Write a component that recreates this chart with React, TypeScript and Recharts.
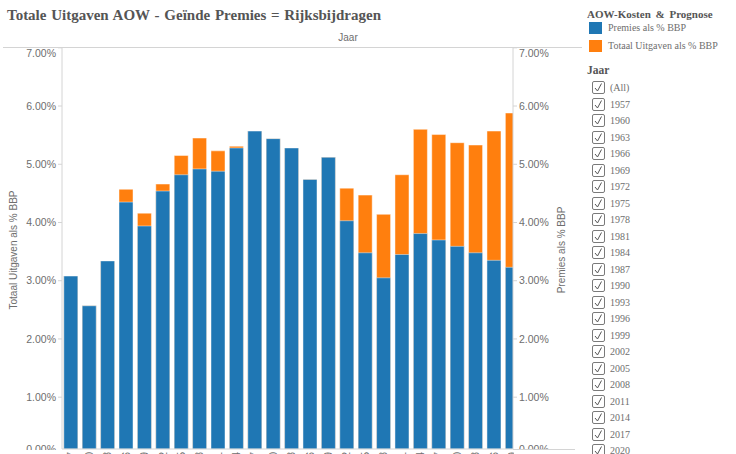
import React from "react"
import { BarChart, Bar, XAxis, YAxis } from "recharts"

const YEARS = [
  1957, 1960, 1963, 1966, 1969, 1972, 1975, 1978, 1981, 1984, 1987, 1990, 1993,
  1996, 1999, 2002, 2005, 2008, 2011, 2014, 2017, 2020, 2023, 2026, 2029,
]

// Premies als % BBP
const PREMIES = [
  3.08, 2.57, 3.34, 4.35, 3.94, 4.54, 4.82, 4.92, 4.88, 5.28, 5.57, 5.44, 5.28,
  4.74, 5.12, 4.03, 3.48, 3.05, 3.45, 3.81, 3.7, 3.59, 3.48, 3.35, 3.23,
]

// Totaal Uitgaven als % BBP
const TOTAAL = [
  3.08, 2.57, 3.34, 4.57, 4.16, 4.66, 5.15, 5.45, 5.23, 5.31, 5.57, 5.44, 5.28,
  4.74, 5.12, 4.59, 4.47, 4.14, 4.82, 5.6, 5.51, 5.37, 5.33, 5.57, 5.88,
]

const Y_TICKS = [0, 1, 2, 3, 4, 5, 6, 7]

// the pane is scrolled: only this window of the axes is in view
const X_VIEW: [number, number] = [1955.53, 2029.07]
const Y_VIEW: [number, number] = [0.11, 7]

const BLUE = "#1f77b4"
const ORANGE = "#ff7f0e"
const AXIS = "#d4d4d4"
const LABEL = "#6e6e6e"
const SANS = "'Liberation Sans', Arial, sans-serif"
const SERIF = "'Liberation Serif', 'Times New Roman', serif"

const data = YEARS.map((jaar, i) => ({ jaar, premies: PREMIES[i], totaal: TOTAAL[i] }))
const slotEdges = YEARS.map((j) => j - 1.5)

function PctTick(props: any) {
  const { x, y, payload, textAnchor } = props
  const v = payload.value as number
  // end labels are pulled inwards so they stay inside the pane
  const shift = v === 7 ? 5 : v === 0 ? -6 : 0
  return (
    <text
      x={x}
      y={y + shift}
      dy="0.355em"
      textAnchor={textAnchor}
      fontSize={10.5}
      fontFamily={SANS}
      fill={LABEL}
    >
      {v.toFixed(2)}%
    </text>
  )
}

function YearTick(props: any) {
  const { x, y, payload } = props
  return (
    <text
      x={x}
      y={y}
      dy="0.35em"
      transform={`rotate(-90 ${x} ${y})`}
      textAnchor="end"
      fontSize={10}
      fontFamily={SANS}
      fill={LABEL}
    >
      {payload.value}
    </text>
  )
}

function CheckBox() {
  return (
    <svg width={13} height={13} style={{ position: "absolute", left: 0, top: 0 }}>
      <rect x={0.5} y={0.5} width={12} height={12} rx={1.5} fill="#fff" stroke="#7a7a7a" />
      <polyline points="3,7 5.5,10 9.5,2.5" fill="none" stroke="#555" strokeWidth={1} />
    </svg>
  )
}

const abs = (left: number, top: number, extra: React.CSSProperties = {}): React.CSSProperties => ({
  position: "absolute",
  left,
  top,
  whiteSpace: "nowrap",
  ...extra,
})

export default function App() {
  const filterRows = ["(All)", ...YEARS.map(String)]
  return (
    <div
      style={{
        position: "absolute",
        left: 0,
        top: 0,
        width: 736,
        height: 454,
        overflow: "hidden",
        background: "#fff",
      }}
    >
      <div
        style={abs(7, 6, {
          fontFamily: SERIF,
          fontWeight: 700,
          fontSize: 15,
          lineHeight: "18px",
          color: "#555",
          wordSpacing: 1,
        })}
      >
        Totale Uitgaven AOW - Geïnde Premies = Rijksbijdragen
      </div>

      <div
        style={abs(348, 32, {
          transform: "translateX(-50%)",
          fontFamily: SANS,
          fontSize: 10,
          lineHeight: "12px",
          color: LABEL,
        })}
      >
        Jaar
      </div>

      <div style={{ position: "absolute", left: 0, top: 0 }}>
        <BarChart
          width={583}
          height={489}
          data={data}
          margin={{ top: 47.8, right: 0, bottom: 0, left: 0 }}
          barGap={-14}
        >
          <XAxis
            xAxisId="slots"
            type="number"
            dataKey="jaar"
            domain={X_VIEW}
            allowDataOverflow
            ticks={slotEdges}
            interval={0}
            tick={false}
            tickLine={{ stroke: AXIS }}
            tickSize={12}
            axisLine={false}
            height={0}
          />
          <XAxis
            type="number"
            dataKey="jaar"
            domain={X_VIEW}
            allowDataOverflow
            ticks={YEARS}
            interval={0}
            tick={(p: any) => <YearTick {...p} />}
            tickLine={false}
            tickSize={0}
            tickMargin={3}
            axisLine={{ stroke: AXIS }}
            height={40}
          />
          <YAxis
            yAxisId="left"
            orientation="left"
            width={62}
            domain={Y_VIEW}
            allowDataOverflow
            ticks={Y_TICKS}
            interval={0}
            tick={(p: any) => <PctTick {...p} />}
            tickLine={{ stroke: AXIS }}
            tickSize={4}
            axisLine={{ stroke: AXIS }}
          />
          <YAxis
            yAxisId="right"
            orientation="right"
            width={70}
            domain={Y_VIEW}
            allowDataOverflow
            ticks={Y_TICKS}
            interval={0}
            tick={(p: any) => <PctTick {...p} />}
            tickLine={{ stroke: AXIS }}
            tickSize={4}
            axisLine={{ stroke: AXIS }}
          />
          <Bar
            yAxisId="left"
            dataKey="totaal"
            name="Totaal Uitgaven als % BBP"
            fill={ORANGE}
            stroke="rgba(255,255,255,0.45)"
            strokeWidth={1}
            barSize={14}
            isAnimationActive={false}
          />
          <Bar
            yAxisId="left"
            dataKey="premies"
            name="Premies als % BBP"
            fill={BLUE}
            stroke="rgba(255,255,255,0.45)"
            strokeWidth={1}
            barSize={14}
            isAnimationActive={false}
          />
        </BarChart>
      </div>

      {/* pane frame: header rule, bottom rule and the axis panes clipped below it */}
      <div style={abs(3, 47, { width: 579, height: 1, background: AXIS })} />
      <div style={abs(0, 449.5, { width: 61, height: 5, background: "#fff" })} />
      <div style={abs(514, 449.5, { width: 70, height: 5, background: "#fff" })} />
      <div style={abs(513, 449, { width: 62, height: 1, background: AXIS })} />

      {/* axis titles */}
      <div
        style={abs(14, 250, {
          transform: "translate(-50%, -50%) rotate(-90deg)",
          fontFamily: SANS,
          fontSize: 10,
          lineHeight: "12px",
          color: LABEL,
        })}
      >
        Totaal Uitgaven als % BBP
      </div>
      <div
        style={abs(562, 250, {
          transform: "translate(-50%, -50%) rotate(-90deg)",
          fontFamily: SANS,
          fontSize: 10,
          lineHeight: "12px",
          color: LABEL,
        })}
      >
        Premies als % BBP
      </div>

      {/* legend */}
      <div
        style={abs(587, 8, {
          fontFamily: SERIF,
          fontWeight: 700,
          fontSize: 11,
          lineHeight: "12px",
          color: "#555",
          wordSpacing: 2,
        })}
      >
        AOW-Kosten &amp; Prognose
      </div>
      {[
        { color: BLUE, label: "Premies als % BBP", top: 22 },
        { color: ORANGE, label: "Totaal Uitgaven als % BBP", top: 40 },
      ].map((item) => (
        <React.Fragment key={item.label}>
          <div style={abs(589, item.top, { width: 13, height: 12, background: item.color })} />
          <div
            style={abs(608, item.top, {
              fontFamily: SERIF,
              fontSize: 10,
              lineHeight: "12px",
              color: LABEL,
            })}
          >
            {item.label}
          </div>
        </React.Fragment>
      ))}

      <div
        style={abs(587, 64, {
          fontFamily: SERIF,
          fontWeight: 700,
          fontSize: 11.5,
          lineHeight: "13px",
          color: "#555",
        })}
      >
        Jaar
      </div>
      {filterRows.map((label, i) => (
        <div key={label} style={abs(592, 81 + i * 16.5, { height: 13, width: 80 })}>
          <CheckBox />
          <span
            style={abs(18, 0, {
              fontFamily: SERIF,
              fontSize: 10,
              lineHeight: "13px",
              color: LABEL,
            })}
          >
            {label}
          </span>
        </div>
      ))}
    </div>
  )
}
